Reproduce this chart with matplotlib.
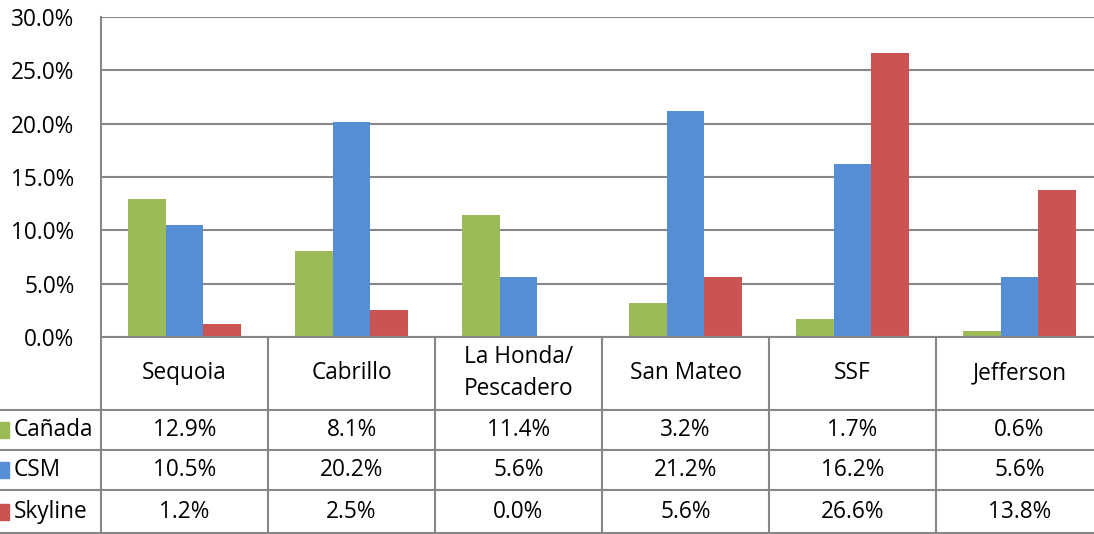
import matplotlib
matplotlib.use("Agg")
import matplotlib.pyplot as plt
from matplotlib.lines import Line2D
from matplotlib.patches import Rectangle
from matplotlib.transforms import blended_transform_factory
import numpy as np

categories = ["Sequoia", "Cabrillo", "La Honda/\nPescadero", "San Mateo", "SSF", "Jefferson"]
series_names = ["Cañada", "CSM", "Skyline"]
canada = [12.9, 8.1, 11.4, 3.2, 1.7, 0.6]
csm = [10.5, 20.2, 5.6, 21.2, 16.2, 5.6]
skyline = [1.2, 2.5, 0.0, 5.6, 26.6, 13.8]
yticks = [0, 5, 10, 15, 20, 25, 30]
colors = ["#9BBB59", "#558ED5", "#CB5452"]

plt.rcParams['font.family'] = ['Open Sans', 'DejaVu Sans']
FS = 16.3

W, H = 1094, 534
fig = plt.figure(figsize=(W / 100, H / 100), dpi=100)
left_px, right_px, top_px, zero_px = 101, 1103, 17, 337
ax = fig.add_axes([left_px / W, 1 - zero_px / H, (right_px - left_px) / W, (zero_px - top_px) / H])

n = len(categories)
x = np.arange(n)
bw = 0.226
data = [canada, csm, skyline]
for i, (vals, c) in enumerate(zip(data, colors)):
    ax.bar(x + (i - 1) * bw, vals, width=bw, color=c, zorder=3)

ax.set_xlim(-0.5, n - 0.5)
ax.set_ylim(0, 30)
ax.set_yticks(yticks)
ax.set_yticklabels([f"{v:.1f}%" for v in yticks], fontsize=FS)
ax.tick_params(axis='y', length=0, pad=19)
ax.set_xticks([])
ax.grid(axis='y', color='#878787', linewidth=1.5, zorder=0)
for s in ["top", "right", "bottom"]:
    ax.spines[s].set_visible(False)
ax.spines["left"].set_color('#878787')
ax.spines["left"].set_linewidth(1.5)

# Data table
gc = '#878787'
def fy(py):
    return 1 - py / H
def fx(px):
    return px / W

row_lines = [410, 450, 490, 533]
for ry in row_lines:
    fig.add_artist(Line2D([0, 1], [fy(ry), fy(ry)], color=gc, linewidth=1.5, transform=fig.transFigure))
fig.add_artist(Line2D([fx(left_px), 1], [fy(zero_px), fy(zero_px)], color=gc, linewidth=1.5, transform=fig.transFigure))
trans = blended_transform_factory(ax.transData, fig.transFigure)
for k in range(n + 1):
    xv = k - 0.5
    fig.add_artist(Line2D([xv, xv], [fy(zero_px), 0], color=gc, linewidth=1.5, transform=trans))

for k, cat in enumerate(categories):
    fig.text(k, fy(373), cat, transform=trans, ha='center', va='center', fontsize=FS,
             linespacing=1.45)

row_centers = [430, 470, 512]
for name, vals, c, ryc in zip(series_names, data, colors, row_centers):
    fig.add_artist(Rectangle((fx(-2), fy(ryc + 8)), 11 / W, 16 / H, color=c, transform=fig.transFigure))
    fig.text(fx(14), fy(ryc), name, ha='left', va='center', fontsize=FS)
    for k, v in enumerate(vals):
        fig.text(k, fy(ryc), f"{v:.1f}%", transform=trans, ha='center', va='center', fontsize=FS)

fig.savefig("out.png", dpi=100)
